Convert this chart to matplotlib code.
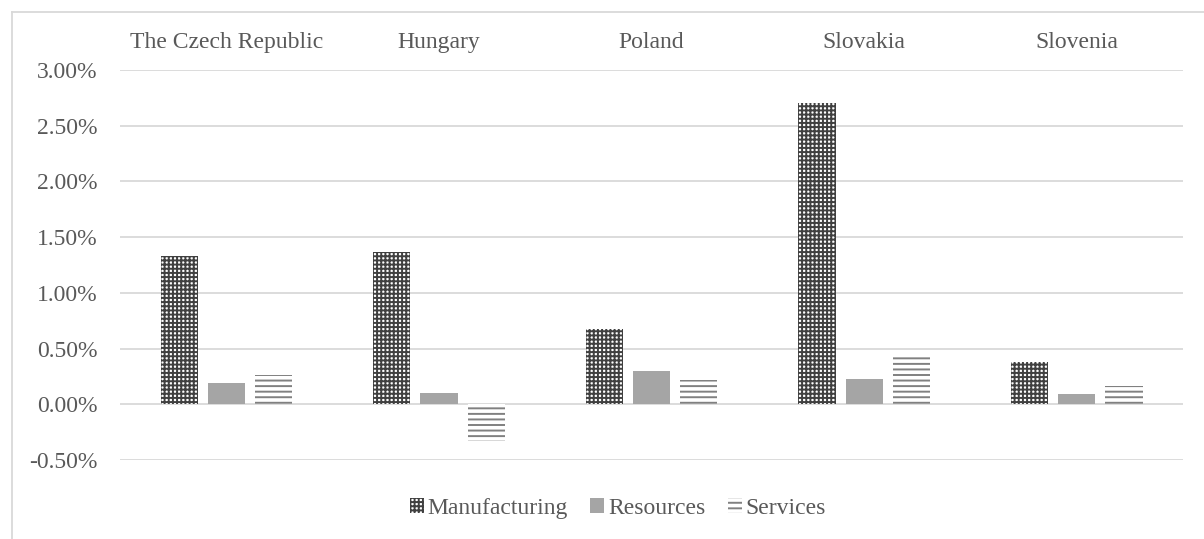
import numpy as np
import matplotlib.pyplot as plt
from matplotlib.lines import Line2D
from matplotlib.ticker import FuncFormatter

countries = ["The Czech Republic", "Hungary", "Poland", "Slovakia", "Slovenia"]
manufacturing = [1.33, 1.37, 0.68, 2.70, 0.38]
resources = [0.19, 0.10, 0.30, 0.23, 0.09]
services = [0.26, -0.33, 0.22, 0.42, 0.16]

plt.rcParams['font.family'] = ['Liberation Serif', 'DejaVu Serif']
txt = "#595959"
grid_c = "#d9d9d9"
fs = 17

fig = plt.figure(figsize=(12.04, 5.39), dpi=100)
ax = fig.add_axes([0.0997, 0.1466, 0.8829, 0.7235])

x = np.arange(len(countries))
w = 0.175
step = 0.222

plt.rcParams['hatch.linewidth'] = 1.4
ax.bar(x - step, manufacturing, w, color="white", edgecolor="#404040",
       hatch="++++", linewidth=0, label="Manufacturing", zorder=2)
ax.bar(x, resources, w, color="#a5a5a5", linewidth=0, label="Resources", zorder=2)
ax.bar(x + step, services, w, color="white", edgecolor="#808080",
       hatch="---", linewidth=0, label="Services", zorder=2)

ax.set_xlim(-0.5, len(countries) - 0.5)
ax.set_ylim(-0.5, 3.0)
ax.set_yticks(np.arange(-0.5, 3.01, 0.5))
ax.yaxis.set_major_formatter(FuncFormatter(lambda v, p: "%.2f%%" % v))
ax.set_xticks([])
ax.grid(axis="y", color=grid_c, linewidth=1.3, zorder=0)
ax.set_axisbelow(True)
for s in ax.spines.values():
    s.set_visible(False)
ax.tick_params(axis="y", length=0, pad=16, labelsize=fs, labelcolor=txt)

for i, c in enumerate(countries):
    ax.text(i, 3.25, c, ha="center", va="center", fontsize=fs, color=txt, clip_on=False)

leg = fig.legend(loc="center", bbox_to_anchor=(0.513, 0.0575), ncol=3, frameon=False,
                 fontsize=fs, handlelength=0.6, handleheight=0.6, handletextpad=0.15,
                 columnspacing=0.95)
for t in leg.get_texts():
    t.set_color(txt)

fig.add_artist(Line2D([0.01, 0.01], [0, 0.978], color=grid_c, linewidth=1.3))
fig.add_artist(Line2D([0.01, 1], [0.978, 0.978], color=grid_c, linewidth=1.3))

fig.savefig("out.png", dpi=100)
